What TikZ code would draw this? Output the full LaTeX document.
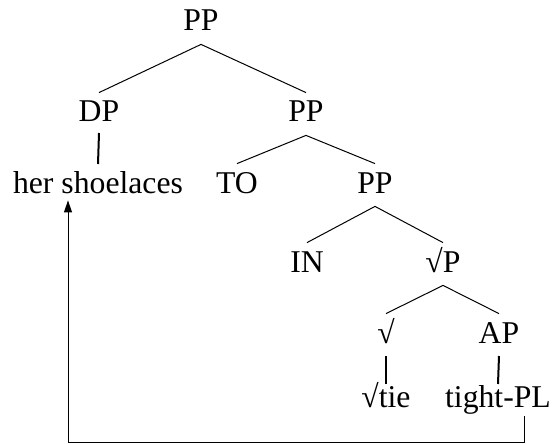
\documentclass[tikz,border=0pt]{standalone}
\usepackage{fontspec}
\setmainfont{Liberation Serif}
\usetikzlibrary{arrows.meta}

\begin{document}
\begin{tikzpicture}[
        x=0.5pt, y=-0.5pt,
        font=\fontsize{15.85}{19}\selectfont,
        >={Triangle[length=6pt,width=4pt]},
        cat/.style={anchor=base,inner xsep=0pt,inner ysep=3.5pt,text height=11pt,text depth=3pt},
        leaf/.style={cat,inner ysep=1.5pt,text depth=2pt},
        branch/.style={line width=0.5pt},
        unary/.style={line width=1pt},
        arrow/.style={->,line width=0.5pt}
    ]
        \useasboundingbox (0,0) rectangle (552,444);

        \node[cat] (pp) at (201,31) {PP};
        \node[cat] (dp) at (99,122) {DP};
        \node[cat] (ppto) at (306,122) {PP};
        \node[leaf] (shoelaces) at (98,193) {her shoelaces};
        \node[cat] (to) at (237,193) {TO};
        \node[cat] (ppin) at (375,193) {PP};
        \node[cat] (in) at (307,272) {IN};
        \node[cat] (rootp) at (443,272) {√P};
        \node[cat] (root) at (386,343) {√};
        \node[cat] (ap) at (499,343) {AP};
        \node[leaf] (tie) at (386,407) {√tie};
        \node[leaf] (tight) at (498,407) {tight-PL};

        \draw[branch] (dp.north) -- (pp.south) -- (ppto.north);
        \draw[branch] (to.north) -- (ppto.south) -- (ppin.north);
        \draw[branch] (in.north) -- (ppin.south) -- (rootp.north);
        \draw[branch] (root.north) -- (rootp.south) -- (ap.north);
        \draw[unary] ([yshift=-5.5pt]dp.base) -- ([yshift=14.5pt]shoelaces.base);
        \draw[unary] ([yshift=-6.5pt]root.base) -- ([yshift=11.5pt]tie.base);
        \draw[unary] ([yshift=-6.5pt]ap.base) -- ([yshift=11.5pt]tight.base);

        % movement of the DP
        \coordinate (tightfoot) at ([xshift=13pt,yshift=-1pt]tight.south);
        \coordinate (shoefoot) at ([xshift=-15pt]shoelaces.south);
        \coordinate (bottom) at (0,442);
        \draw[arrow] (tightfoot) -- (tightfoot |- bottom) -| (shoefoot);
    \end{tikzpicture}
\end{document}
